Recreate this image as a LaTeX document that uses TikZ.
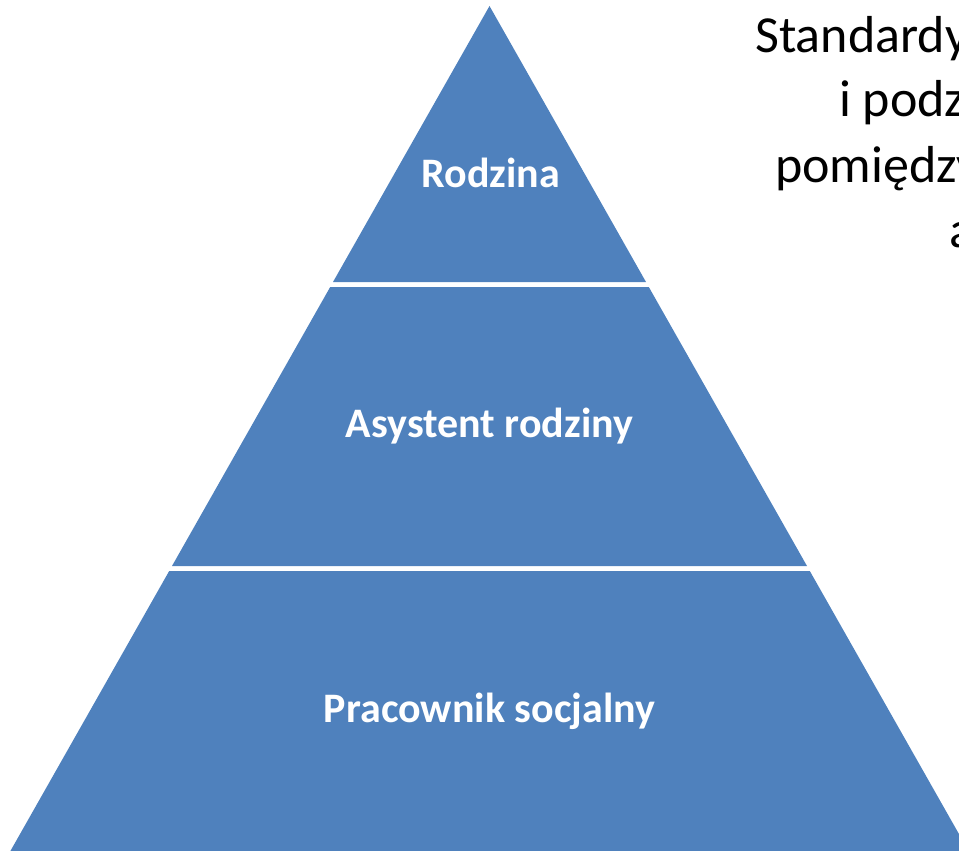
\documentclass[tikz,border=0pt]{standalone}
\usepackage{fontspec}
\setmainfont{Carlito}
\definecolor{layerblue}{HTML}{4F81BD}
\tikzset{
  layerlabel/.style={anchor=base,text=white,font=\fontsize{42}{50}\selectfont\bfseries,inner sep=0pt},
  sidetext/.style={anchor=base west,text=black,font=\fontsize{52}{62}\selectfont,inner sep=0pt}
}
\begin{document}
\begin{tikzpicture}[x=1pt,y=-1pt]
  \useasboundingbox (0,0) rectangle (959,851);
  \clip (0,0) rectangle (959,851);
  % Top layer (triangle)
  \fill[layerblue] (489.5,6) -- (646,282) -- (333,282) -- cycle;
  % Middle layer
  \fill[layerblue] (330.2,287) -- (648.8,287) -- (807,566) -- (172,566) -- cycle;
  % Bottom layer
  \fill[layerblue] (169.2,571) -- (809.8,571) -- (968.6,851) -- (10.4,851) -- cycle;
  % Layer labels
  \node[layerlabel] (rodzina) at (491,187) {Rodzina};
  \node[layerlabel] (asystent) at (489.5,437) {Asystent rodziny};
  \node[layerlabel] (pracownik) at (489.5,722) {Pracownik socjalny};
  % Title text, cut by the right edge
  \node[sidetext] (line1) at (755,53) {Standardy};
  \node[sidetext] (line2) at (839,117) {i podz};
  \node[sidetext] (line3) at (775,182) {pomiędzy};
  \node[sidetext] (line4) at (949,247) {a};
\end{tikzpicture}
\end{document}
